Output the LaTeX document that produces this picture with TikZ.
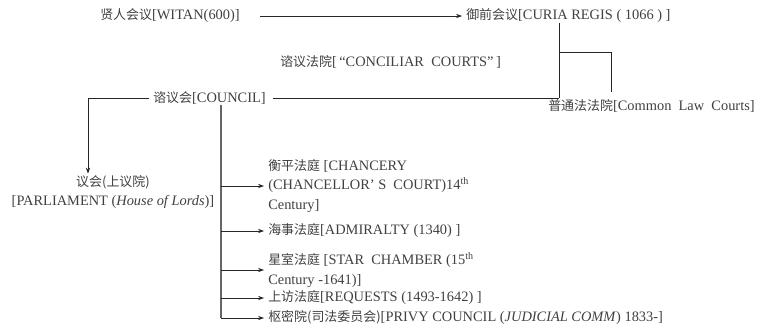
\documentclass[tikz,border=0pt]{standalone}
\usepackage{fontspec}
\setmainfont{Liberation Serif}
\newfontfamily\cjk[Scale=0.9]{Noto Sans CJK SC}
\usetikzlibrary{arrows.meta,positioning}
\newcommand{\zh}[1]{{\cjk #1}}

\begin{document}
\begin{tikzpicture}[
    x=0.75pt,y=0.75pt,
    >={Stealth[length=4.5pt,width=3.2pt]},
    every node/.style={font=\fontsize{10.8}{14.6}\selectfont, text=black!75, inner sep=0pt},
    link/.style={draw=black!85, line width=0.6pt},
    trunkline/.style={draw=black!60, line width=0.9pt}
]
\useasboundingbox (0,0) rectangle (766,-332);

% top row
\node[anchor=west] (witan) at (100,-16) {\zh{贤人会议}[WITAN(600)]};
\node[anchor=west] (curia) at (466,-16) {\zh{御前会议}[CURIA REGIS ( 1066 ) ]};
\node[anchor=west] (conciliar) at (280,-62) {\zh{谘议法院}[\,“CONCILIAR\ \ COURTS”\,]};
\node[anchor=west] (common) at (548,-106) {\zh{普通法法院}[Common\ \ Law\ \ Courts]};

% council and parliament
\node[anchor=west] (council) at (153,-98) {\zh{谘议会}[COUNCIL]};
\node[align=center] (parl) at (113,-192) {\zh{议会(上议院)}\\{[PARLIAMENT (\textit{House of Lords})]}};

% courts
\node[anchor=west,align=left] (chancery) at (268,-186) {\zh{衡平法庭} [CHANCERY\\(CHANCELLOR' S\ \ COURT)14\textsuperscript{th}\\Century]};
\node[anchor=west] (admiralty) at (268,-231) {\zh{海事法庭}[ADMIRALTY (1340) ]};
\node[anchor=west,align=left] (star) at (268,-270) {\zh{星室法庭} [STAR\ \ CHAMBER (15\textsuperscript{th}\\Century -1641)]};
\node[anchor=west] (requests) at (268,-298) {\zh{上访法庭}[REQUESTS (1493-1642) ]};
\node[anchor=west] (privy) at (268,-318) {\zh{枢密院(司法委员会)}[PRIVY COUNCIL (\textit{JUDICIAL COMM}) 1833-]};

% junctions
\coordinate (regis) at (559,-52);
\coordinate (join) at (559,-98);
\coordinate (lawtop) at (611,-92);
\coordinate (left) at (88,-98);
\coordinate (trunk) at (221,0);

% lines
\draw[link,->,shorten >=3pt] ([xshift=15pt]witan.east) -- (curia.west);
\draw[link] (curia.south -| regis) -- (join);
\draw[link] (regis) -| (lawtop);
\draw[link] ([xshift=5pt]council.east) -- (join);
\draw[link,->,shorten >=1pt] ([xshift=-3pt]council.west) -- (left) -- (left |- parl.north);
\draw[trunkline] (council.south -| trunk) -- (trunk |- privy.west);
\foreach \n in {chancery,admiralty,star,requests,privy}
  \draw[link,->,shorten >=3pt] (trunk |- \n.west) -- (\n.west);

\end{tikzpicture}
\end{document}
